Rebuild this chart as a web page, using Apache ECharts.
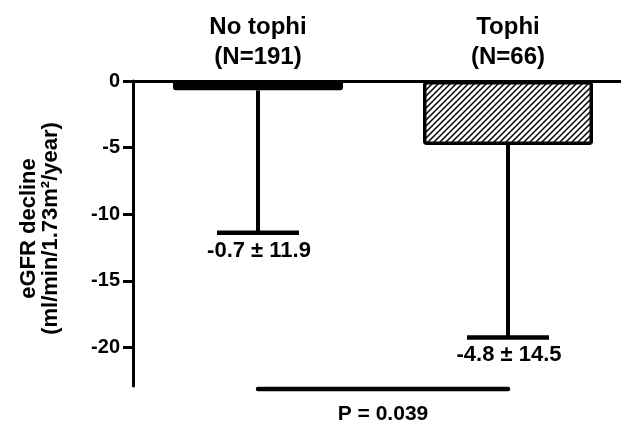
<!DOCTYPE html>
<html>
<head>
<meta charset="utf-8">
<script src="https://cdn.jsdelivr.net/npm/echarts@6/dist/echarts.min.js"></script>
<style>
html,body{margin:0;padding:0;background:#fff;}
#chart{width:621px;height:422px;}
</style>
</head>
<body>
<div id="chart"></div>
<script>
// ---- data ----
const categories = ['No tophi\n(N=191)', 'Tophi\n(N=66)'];
const categoryIndex = [0, 1];
const meanValues = [-0.7, -4.8];
const errorLow = [-11.4, -19.25];
const valueLabels = ['-0.7 \u00b1 11.9', '-4.8 \u00b1 14.5'];
const yTicks = [0, -5, -10, -15, -20];
const pText = 'P = 0.039';
const pLevel = -23.12;

const FONT = '"Liberation Sans", Arial, sans-serif';

// hatch pattern
function makeHatch() {
  const s = 6;
  const c = document.createElement('canvas');
  c.width = s; c.height = s;
  const g = c.getContext('2d');
  g.fillStyle = '#fff';
  g.fillRect(0, 0, s, s);
  g.strokeStyle = '#000';
  g.lineWidth = 1.5;
  g.beginPath();
  g.moveTo(-1, s + 1); g.lineTo(s + 1, -1);
  g.moveTo(-1, 1); g.lineTo(1, -1);
  g.moveTo(s - 1, s + 1); g.lineTo(s + 1, s - 1);
  g.stroke();
  return c;
}

const chart = echarts.init(document.getElementById('chart'));
chart.setOption({
  animation: false,
  grid: { left: 133, top: 81, right: 0, bottom: 36, containLabel: false },
  xAxis: {
    type: 'value',
    position: 'top',
    min: -0.5,
    max: 1.452,
    axisLine: { show: true, onZero: false, lineStyle: { color: '#000', width: 3 } },
    axisTick: { show: false },
    axisLabel: {
      margin: 9,
      color: '#000',
      fontFamily: FONT,
      fontWeight: 'bold',
      fontSize: 24,
      lineHeight: 30,
      customValues: categoryIndex,
      formatter: function (v) { return categories[Math.round(v)]; }
    },
    splitLine: { show: false }
  },
  yAxis: {
    type: 'value',
    position: 'left',
    min: -22.9,
    max: 0,
    name: 'eGFR decline\n(ml/min/1.73m\u00b2/year)',
    nameLocation: 'middle',
    nameGap: 71,
    nameRotate: 90,
    nameTextStyle: {
      color: '#000',
      fontFamily: FONT,
      fontWeight: 'bold',
      fontSize: 22,
      lineHeight: 22,
      padding: [0, 0, 0, 10]
    },
    axisLine: { show: true, onZero: false, lineStyle: { color: '#000', width: 3 } },
    axisTick: { show: true, length: 10, inside: false, lineStyle: { color: '#000', width: 3 }, customValues: yTicks },
    axisLabel: {
      margin: 13,
      color: '#000',
      fontFamily: FONT,
      fontWeight: 'bold',
      fontSize: 20,
      customValues: yTicks
    },
    splitLine: { show: false }
  },
  series: [
    {
      type: 'bar',
      barWidth: 170,
      data: [
        { value: [categoryIndex[0], meanValues[0]], itemStyle: { color: '#000', borderColor: '#000', borderWidth: 0, borderRadius: [0, 0, 3, 3] } },
        { value: [categoryIndex[1], meanValues[1]], itemStyle: { color: { image: makeHatch(), repeat: 'repeat' }, borderColor: '#000', borderWidth: 3.5, borderRadius: 2 } }
      ],
      z: 2
    },
    {
      type: 'custom',
      clip: false,
      z: 3,
      data: meanValues.map((v, i) => [categoryIndex[i], v, errorLow[i]]),
      renderItem: function (params, api) {
        const i = api.value(0);
        const top = api.coord([i, api.value(1)]);
        const bot = api.coord([i, api.value(2)]);
        const half = 41;
        return {
          type: 'group',
          children: [
            { type: 'line', shape: { x1: top[0], y1: top[1], x2: bot[0], y2: bot[1] }, style: { stroke: '#000', lineWidth: 4 } },
            { type: 'line', shape: { x1: bot[0] - half, y1: bot[1], x2: bot[0] + half, y2: bot[1] }, style: { stroke: '#000', lineWidth: 4.5 } },
            { type: 'text', x: bot[0] + 1, y: bot[1] + 18, style: { text: valueLabels[params.dataIndex], fill: '#000', font: 'bold 22px ' + FONT, align: 'center', verticalAlign: 'middle' } }
          ]
        };
      }
    },
    {
      type: 'custom',
      clip: false,
      z: 3,
      data: [[categoryIndex[0], categoryIndex[1], pLevel]],
      renderItem: function (params, api) {
        const a = api.coord([api.value(0), api.value(2)]);
        const b = api.coord([api.value(1), api.value(2)]);
        return {
          type: 'group',
          children: [
            { type: 'line', shape: { x1: a[0], y1: a[1], x2: b[0], y2: b[1] }, style: { stroke: '#000', lineWidth: 4.5, lineCap: 'round' } },
            { type: 'text', x: (a[0] + b[0]) / 2, y: a[1] + 25, style: { text: pText, fill: '#000', font: 'bold 21px ' + FONT, align: 'center', verticalAlign: 'middle' } }
          ]
        };
      }
    }
  ]
});
</script>
</body>
</html>
